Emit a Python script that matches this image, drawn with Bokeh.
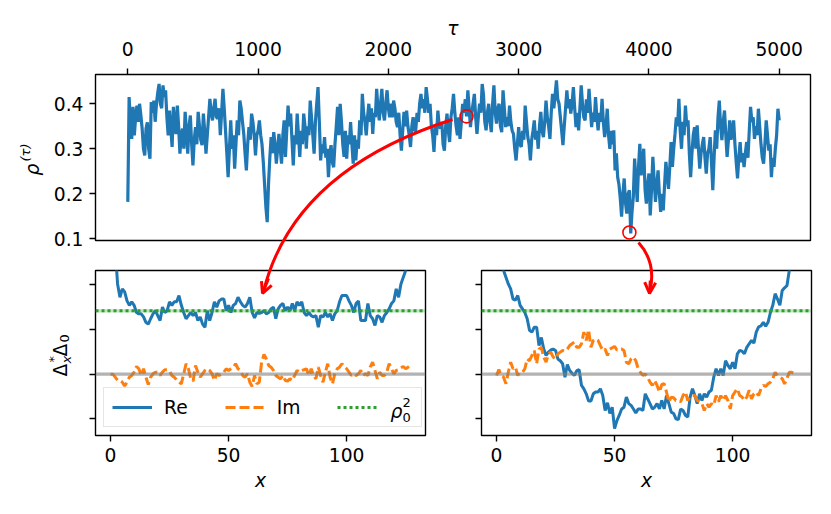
from bokeh.plotting import figure
from bokeh.layouts import column, row
from bokeh.models import Range1d, FixedTicker, Legend, LegendItem, Arrow, OpenHead, Span
from bokeh.core.properties import value
from bokeh.embed import file_html
from bokeh.resources import INLINE

tau = list(range(0, 5001, 10))
rho = [.182, .415, .360, .322, .393, .330, .370, .396, .360, .400, .375, .345, .300, .285, .345, .359, .300, .278, .404, .380,
       .407, .360, .400, .425, .444, .400, .390, .441, .415, .430, .370, .330, .385, .345, .304, .393, .350, .333, .396, .350,
       .289, .330, .345, .300, .382, .340, .289, .350, .374, .310, .263, .320, .348, .310, .382, .350, .320, .308, .378, .340,
       .289, .330, .370, .411, .380, .363, .390, .411, .370, .367, .390, .330, .380, .433, .390, .340, .290, .237, .300, .363,
       .300, .330, .256, .310, .363, .330, .407, .390, .360, .333, .290, .252, .310, .348, .320, .378, .360, .330, .285, .330,
       .340, .363, .330, .310, .270, .220, .170, .137, .222, .280, .326, .290, .337, .310, .267, .300, .333, .300, .267, .330,
       .363, .282, .340, .396, .350, .378, .320, .263, .330, .310, .378, .330, .282, .340, .310, .378, .350, .300, .350, .330,
       .407, .370, .330, .289, .360, .400, .437, .360, .274, .310, .290, .326, .280, .300, .237, .290, .308, .270, .259, .310,
       .350, .393, .330, .400, .360, .310, .282, .340, .278, .330, .310, .359, .310, .267, .330, .274, .320, .300, .363, .330,
       .422, .380, .360, .330, .370, .400, .360, .390, .333, .380, .370, .433, .390, .363, .400, .433, .380, .363, .400, .430,
       .390, .370, .400, .370, .407, .390, .360, .348, .380, .330, .296, .340, .382, .350, .385, .350, .330, .304, .350, .370,
       .340, .341, .380, .360, .400, .422, .390, .410, .380, .437, .410, .380, .400, .350, .330, .293, .350, .330, .385, .350,
       .345, .360, .310, .296, .350, .378, .340, .315, .370, .390, .422, .380, .350, .330, .370, .322, .360, .400, .380, .410,
       .372, .430, .390, .348, .380, .400, .422, .370, .333, .370, .400, .380, .444, .420, .360, .341, .380, .400, .360, .337,
       .400, .441, .380, .356, .390, .400, .350, .337, .430, .390, .348, .370, .350, .396, .360, .340, .333, .300, .274, .310,
       .348, .310, .304, .340, .320, .396, .360, .326, .310, .274, .320, .340, .363, .320, .340, .300, .350, .382, .340, .326,
       .360, .407, .370, .350, .322, .380, .422, .390, .420, .452, .410, .400, .370, .340, .308, .350, .390, .430, .390, .410,
       .378, .400, .437, .390, .348, .380, .341, .390, .441, .400, .370, .363, .410, .380, .433, .390, .348, .380, .360, .415,
       .370, .341, .380, .360, .411, .360, .326, .350, .389, .330, .300, .340, .310, .341, .252, .290, .237, .220, .190, .149,
       .200, .234, .180, .156, .200, .208, .112, .160, .193, .278, .230, .182, .260, .311, .241, .270, .300, .210, .178, .220,
       .245, .152, .210, .282, .230, .182, .220, .252, .200, .160, .200, .163, .220, .271, .240, .211, .260, .315, .260, .300,
       .333, .370, .350, .411, .340, .300, .360, .330, .396, .350, .363, .290, .237, .290, .330, .348, .300, .352, .300, .256,
       .290, .310, .326, .280, .245, .290, .300, .326, .270, .208, .280, .341, .300, .370, .407, .350, .319, .360, .385, .330,
       .282, .320, .363, .320, .340, .363, .310, .270, .234, .280, .315, .270, .290, .259, .290, .315, .280, .340, .393, .360,
       .370, .322, .350, .330, .389, .350, .310, .280, .267, .310, .363, .330, .296, .310, .237, .280, .260, .300, .330, .389,
       .363]
tau_marked = [2600, 3850]
rho_marked = [.372, .114]
tau_ticks = [0, 1000, 2000, 3000, 4000, 5000]
rho_ticks = [.1, .2, .3, .4]
x_ticks = [0, 50, 100]
delta_ticks = [-50, 0, 50, 100]
rho0_sq = 70.9

re_left = [350, 250, 140, 101, 86, 95.5, 92, 82, 77, 81, 77, 69, 67.5, 67.5, 64, 58, 56, 62, 67.5, 71,
           65.5, 60, 75, 69, 71, 81, 77, 81, 81, 88, 77, 69, 62, 65.5, 69, 65.5, 69, 60, 64, 56,
           52.5, 71, 60, 69, 81, 75, 82, 84, 84, 71, 77, 69, 77, 79, 86, 81, 77, 75, 79, 86,
           69, 63, 69, 68, 69, 71, 67.5, 69, 73, 75, 62, 73, 77, 79, 71, 75, 71, 79, 71, 81,
           77, 81, 69, 65.5, 69, 65.5, 64, 65.5, 52.5, 65.5, 64, 69, 64, 67.5, 60, 67.5, 71, 81, 88, 88,
           88, 82, 77, 69, 79, 82, 60, 60, 60, 79, 65.5, 62, 54.5, 65.5, 64, 58, 65.5, 69, 73, 79,
           82, 95.5, 86, 101, 108.5, 116, 135, 170]
im_left = [0, 0, -3.4, -7, -7, -9, -13.4, -9, -3.4, -1.5, 2.2, 8.6, 6, -1.5, 6, -3.4, -11.6, -3.4, 0.4, 2.2,
           2.2, -1.5, 2.2, 4.9, 4.9, 3.4, -1.5, -3.4, -6.3, -9, -10.9, 0.4, 11.6, 6, -5.2, -7.8, 9.7, 2.2, -3.4, 0.4,
           4.1, 6, 4.1, 0.4, -7.1, 0.4, -1.5, 0.4, 2.2, 6, 4.1, 6, 7.8, 11.6, 6, 4.1, -1.5, -3.4, 0.4, -9,
           -13.8, -1.5, -10.9, -9, 13.4, 22, 17, 9.7, 7.8, 4.1, -1.5, -3.4, -5.2, -1.5, -7.1, -7.8, -5.2, -7.1, -1.5, 4.1,
           2.2, 4.1, 4.9, 6, -1.5, 6, -1.5, -5.2, 7.8, -1.5, -9, 2.2, 11.6, -3.4, -10.9, 0.4, 6, 7.8, 11.6, 8.6,
           6, 2.2, -1.5, 0.4, -1.5, 0.4, 4.1, -1.5, 0.4, -1.5, 7.8, 13.4, 4.1, -5.2, 2.2, -1.5, -1.5, 2.2, 11.6, 6,
           0.4, 4.1, 4.9, 7.1, 8.6, 6, 7.8, 9.7]
re_right = [200, 160, 125, 116, 108.5, 101, 95.5, 84, 83, 88, 77, 73, 69, 62, 49, 47, 52.6, 52.6, 32, 41,
            28, 21, 24.6, 27, 28, 26.5, 17, 15, 11.6, -3.4, 10.8, 4, 1, -1.5, 4, 5, -12.7, -16.4, -22, -30,
            -30, -22, -20, -20, -16.4, -24, -40.7, -32, -44, -37, -61, -52, -46, -39, -37, -25.7, -33, -35, -39, -43.6,
            -39, -39, -40.7, -22, -27.6, -33, -39, -37, -33, -39, -29.5, -39, -24, -33, -42.5, -44, -50, -51, -39, -40.7,
            -46, -48, -25.7, -16.4, -24, -33, -22, -29.5, -22, -25.7, -20, -18, -3.4, 6, -1.5, 6, -1.5, 15, 9.7, 6,
            13.4, 6, 22.7, 26.5, 25.7, 22.7, 30, 34, 37.7, 34.7, 47, 53, 54, 58, 53.7, 58, 69, 77, 90, 84,
            77, 93.6, 96.6, 99, 116, 135, 160, 190]
im_right = [-1.5, 5, -1.5, -3.4, -10.8, 2.2, 13.4, 6, 7.8, -1.5, 2, 2, 6, 17, 15, 21, 26.5, 11.6, 28, 30,
            19, 13.4, 22.7, 24.6, 19, 17, 22.7, 24.6, 26.5, 25.7, 28, 32, 34, 36, 30, 30, 34, 47, 37.7, 49.6,
            30, 37.7, 39.5, 37.7, 32, 26.5, 28, 21, 28, 29.5, 31, 27, 28, 28, 26.5, 13.4, 11.6, 17, 19, 15,
            6, 2, -1.5, 0, -3.4, -9, -12.7, -7, -12.7, -20, -11.6, -10.8, -20, -31, -25.7, -26.5, -29.5, -29.5, -31, -24,
            -20, -29.5, -25.7, -24, -24, -29.5, -31, -33, -40.7, -33, -37, -33, -35, -24, -31, -24, -29.5, -24, -29.5, -39,
            -24, -20, -16.4, -24, -25.7, -29.5, -25.7, -18, -27.6, -22, -20, -24, -16.4, -12.7, -13.8, -10.8, -9, -5, 2, -1.5,
            -3.4, -5, -10.8, -5, 2, 2, 1, 0]

BLUE = "#1f77b4"
ORANGE = "#ff7f0e"
GREEN = "#2ca02c"
FONT = "DejaVu Sans"


def style(p, xaxes, yaxes):
    p.outline_line_color = "black"
    p.outline_line_width = 1.4
    p.grid.visible = False
    for ax in xaxes + yaxes:
        ax.axis_line_color = None
        ax.major_tick_line_color = "black"
        ax.major_tick_line_width = 1.4
        ax.major_tick_in = 0
        ax.major_tick_out = 6
        ax.minor_tick_line_color = None
        ax.major_label_text_font = FONT
        ax.major_label_text_font_size = "18.7px"
        ax.major_label_text_color = "black"
        ax.major_label_standoff = 6
        ax.axis_label_text_font = FONT
        ax.axis_label_text_font_size = "18.7px"
        ax.axis_label_text_font_style = "italic"
        ax.axis_label_text_color = "black"


top = figure(width=815, height=250, frame_width=715, frame_height=166, output_backend="svg", toolbar_location=None,
             x_axis_location="above", x_range=Range1d(-248, 5240), y_range=Range1d(.0962, .465),
             min_border_left=95, min_border_right=5, min_border_top=74, min_border_bottom=10, margin=(0, 0, 0, 0))
top.line(tau, rho, color=BLUE, line_width=3.2)
top.scatter(tau_marked, rho_marked, size=13, fill_color=None, line_color="red", line_width=1.6)
style(top, top.xaxis, top.yaxis)
top.xaxis.ticker = FixedTicker(ticks=tau_ticks)
top.yaxis.ticker = FixedTicker(ticks=rho_ticks)
top.xaxis.axis_label = "τ"
top.xaxis.major_label_standoff = 13
top.xaxis.axis_label_standoff = 0


def panel(re, im, width, left, right, with_legend):
    p = figure(width=width, height=245, frame_width=330, frame_height=165, output_backend="svg", toolbar_location=None,
               x_range=Range1d(-6.35, 133.4), y_range=Range1d(-68.7, 116),
               min_border_left=left, min_border_right=right, min_border_top=20, min_border_bottom=60, margin=(0, 0, 0, 0))
    xs = list(range(len(re)))
    p.add_layout(Span(location=0, dimension="width", line_color="gray", line_alpha=.6, line_width=3.2))
    p.add_layout(Span(location=rho0_sq, dimension="width", line_color=GREEN, line_alpha=.3, line_width=3.2))
    r_re = p.line(xs, re, color=BLUE, line_width=3)
    r_im = p.line(xs, im, color=ORANGE, line_width=3, line_dash="10 4")
    r_rho = p.line([-6.35, 133.4], [rho0_sq, rho0_sq], color=GREEN, line_width=3, line_dash="3 3")
    style(p, p.xaxis, p.yaxis)
    p.xaxis.ticker = FixedTicker(ticks=x_ticks)
    p.yaxis.ticker = FixedTicker(ticks=delta_ticks)
    p.yaxis.major_label_overrides = {t: "" for t in delta_ticks}
    p.xaxis.axis_label = "x"
    p.xaxis.axis_label_standoff = 5
    if with_legend:
        legend = Legend(items=[LegendItem(label="Re", renderers=[r_re]), LegendItem(label="Im", renderers=[r_im]),
                               LegendItem(label="\u00a0\u00a0\u00a0\u00a0", renderers=[r_rho])],
                        orientation="horizontal", location=(8, 8), glyph_width=40, glyph_height=22,
                        label_standoff=12, spacing=37, padding=8, margin=0,
                        border_line_color="#cccccc", border_line_width=1.6, background_fill_alpha=.8,
                        label_text_font=FONT, label_text_font_size="18.7px", label_text_color="black")
        p.add_layout(legend)
    return p


left = panel(re_left, im_left, 454, 95, 29, True)
right = panel(re_right, im_right, 361, 27, 4, False)

# sheet over the whole page, for what runs across the panels
over = figure(width=825, height=500, output_backend="svg", toolbar_location=None, x_range=Range1d(0, 825),
              y_range=Range1d(500, 0), min_border=0, margin=(-495, 0, 0, 0),
              background_fill_alpha=0, border_fill_alpha=0, outline_line_color=None)
over.axis.visible = False
over.grid.visible = False
over.quadratic(x0=[452], y0=[119], x1=[263], y1=[291], cx=[293], cy=[170], line_color="red", line_width=3)
over.quadratic(x0=[638], y0=[242], x1=[649.5], y1=[290], cx=[656], cy=[262], line_color="red", line_width=3)
for x0, y0, x1, y1 in [(268, 278, 262, 293), (649.8, 280, 649, 293)]:
    over.add_layout(Arrow(end=OpenHead(size=11, line_color="red", line_width=3), x_start=x0, y_start=y0, x_end=x1, y_end=y1,
                          line_color="red", line_width=3))

txt = dict(text_font=value(FONT), text_color="black", text_align="left", text_baseline="alphabetic")
rot = 1.5708
over.text([32], [175], text=["ρ"], text_font_size="18.7px", text_font_style="italic", angle=rot, **txt)
over.text([25], [161], text=["(τ)"], text_font_size="13px", text_font_style="italic", angle=rot, **txt)
over.text([60], [376], text=["Δ"], text_font_size="18.7px", angle=rot, **txt)
over.text([53], [362], text=["*"], text_font_size="13px", angle=rot, **txt)
over.text([66], [363], text=["x"], text_font_size="13px", text_font_style="italic", angle=rot, **txt)
over.text([60], [356], text=["Δ"], text_font_size="18.7px", angle=rot, **txt)
over.text([64], [342], text=["0"], text_font_size="13px", angle=rot, **txt)
over.text([390], [411], text=["ρ"], text_font_size="18.7px", text_font_style="italic", **txt)
over.text([402], [402], text=["2"], text_font_size="13px", **txt)
over.text([402], [417], text=["0"], text_font_size="13px", **txt)

panels = column(top, row(left, right, margin=(0, 0, 0, 0)), margin=(0, 0, 0, 0))
p = column(panels, over, margin=(0, 0, 0, 0))
open("out.html", "w").write(file_html(p, INLINE))
